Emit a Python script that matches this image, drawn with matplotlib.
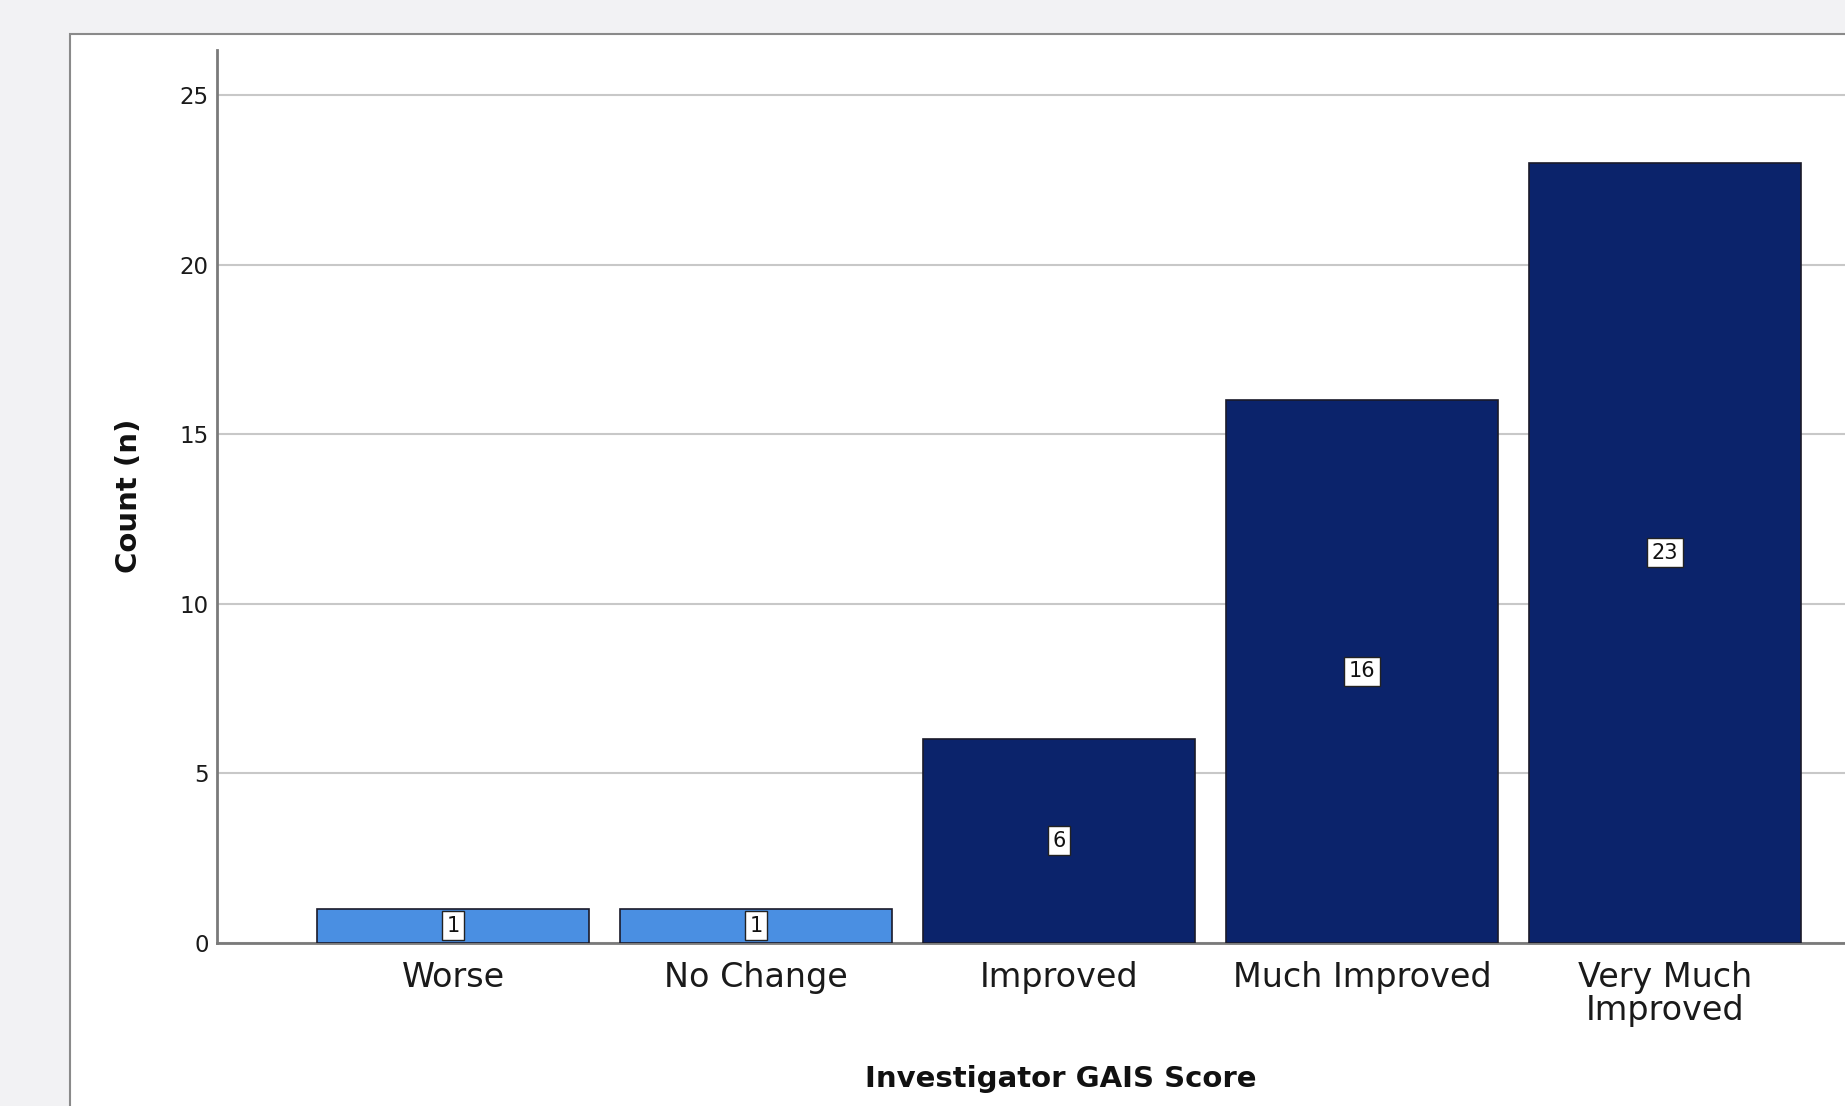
import numpy as np
import matplotlib.pyplot as plt
from matplotlib.patches import Rectangle

# GAIS score counts
categories = ['Worse', 'No Change', 'Improved', 'Much Improved', 'Very Much\nImproved']
counts = [1, 1, 6, 16, 23]
bar_colors = ['#4a8fe2', '#4a8fe2', '#0b236b', '#0b236b', '#0b236b']
yticks = [0, 5, 10, 15, 20, 25]

fig = plt.figure(figsize=(18.45, 11.06), dpi=100)
fig.patch.set_facecolor('#f2f2f4')

# white chart panel with grey border (runs off the right/bottom edges)
panel = Rectangle((70 / 1845, -0.01), 1.0, 1 - 34 / 1106 + 0.01,
                  transform=fig.transFigure, facecolor='white',
                  edgecolor='#8a8a8a', linewidth=1.5, zorder=-5)
fig.patches.append(panel)

ax = fig.add_axes([217 / 1845, 1 - 942.5 / 1106, 1 - 217 / 1845, (942.5 - 50) / 1106])
ax.set_facecolor('white')
ax.set_zorder(2)

x = np.arange(len(categories))
ax.bar(x, counts, width=0.9, color=bar_colors, edgecolor='#1a1a2a',
       linewidth=1.2, zorder=3)

for xi, c in zip(x, counts):
    ax.text(xi, c / 2, str(c), ha='center', va='center', fontsize=15,
            color='#111111', zorder=5,
            bbox=dict(boxstyle='square,pad=0.22', facecolor='white',
                      edgecolor='#222222', linewidth=1))

ax.set_xlim(-0.779, 4.594)
ax.set_ylim(0, 26.33)
ax.set_yticks(yticks)
ax.set_xticks(x)
ax.set_xticklabels(categories, fontsize=24, color='#1a1a1a', linespacing=1.0)
ax.tick_params(axis='y', labelsize=16.5, length=0, pad=6, colors='#1a1a1a')
ax.tick_params(axis='x', length=0, pad=13)

ax.yaxis.grid(True, color='#c8c8c8', linewidth=1.5, zorder=0)
ax.set_axisbelow(True)

for side in ['top', 'right']:
    ax.spines[side].set_visible(False)
for side in ['left', 'bottom']:
    ax.spines[side].set_color('#7a7a7a')
    ax.spines[side].set_linewidth(2)

fig.text(1061 / 1845, 1 - 1079 / 1106, 'Investigator GAIS Score',
         ha='center', va='center', fontsize=21, fontweight='bold', color='#111111')
fig.text(129 / 1845, 1 - 496 / 1106, 'Count (n)', rotation=90,
         ha='center', va='center', fontsize=21, fontweight='bold', color='#111111')

fig.savefig('out.png', dpi=100, facecolor=fig.get_facecolor())
